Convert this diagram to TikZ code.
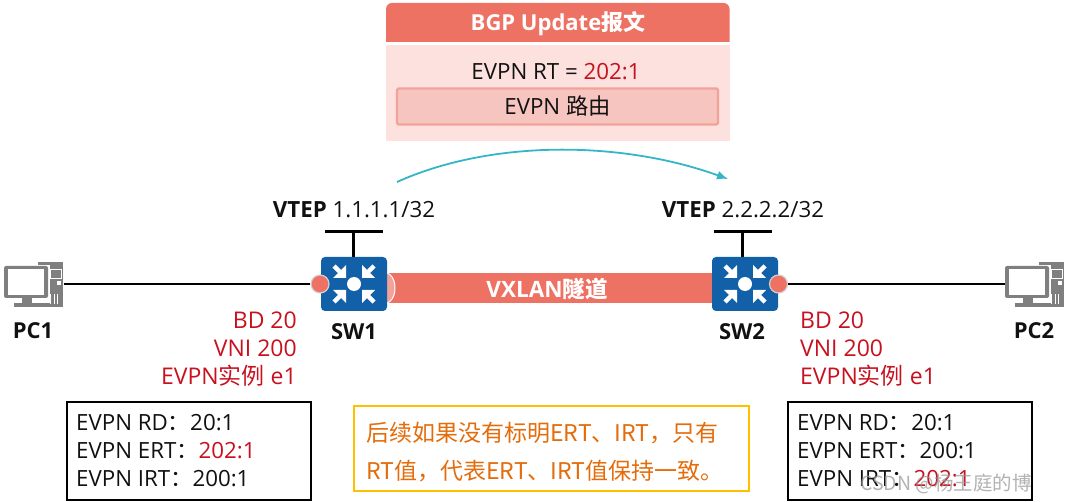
\documentclass[tikz,border=0pt]{standalone}
\usepackage{fontspec}
\setmainfont{Open Sans}
\newfontfamily\cjk{Noto Sans CJK SC}
\usetikzlibrary{arrows.meta,calc}
\definecolor{salmon}{HTML}{EE7264}
\definecolor{palepink}{HTML}{FCE1DE}
\definecolor{midpink}{HTML}{F7C5C0}
\definecolor{edgepink}{HTML}{F3A299}
\definecolor{swblue}{HTML}{1160A8}
\definecolor{redtxt}{HTML}{C8101E}
\definecolor{teal}{HTML}{35B6C8}
\definecolor{notebd}{HTML}{FFC000}
\definecolor{notetx}{HTML}{E46C0A}
\definecolor{pcgray}{HTML}{7F7F7F}
\definecolor{txt}{HTML}{111111}
\tikzset{
  lbl/.style={font=\fontsize{22.3}{26}\selectfont, text=txt, inner sep=0pt},
  redlbl/.style={lbl, font=\fontsize{23}{27}\selectfont, text=redtxt},
  bold/.style={lbl, font=\fontsize{22}{26}\selectfont\bfseries},
  wire/.style={draw=black, line width=2.8pt},
  thinwire/.style={draw=black, line width=2pt},
  infobox/.style={draw=black, line width=2pt, fill=white, minimum width=244pt, minimum height=98pt, inner sep=0pt},
  swbox/.style={fill=swblue, rounded corners=4pt, minimum width=66pt, minimum height=54pt, inner sep=0pt},
  port/.style={circle, fill=salmon, draw=black!18, line width=1.2pt, minimum size=18pt, inner sep=0pt},
  pcnode/.style={minimum width=59pt, minimum height=45pt, inner sep=0pt},
}
\newcommand{\swicon}[1]{%
  \fill[white] (#1) circle (7pt);
  \foreach \sx/\sy in {1/1,-1/1,1/-1,-1/-1}{
    \begin{scope}[shift={(#1)}, xscale=\sx, yscale=\sy]
      \fill[white] (8,-6) -- (8,-19) -- (21,-6) -- cycle;
      \draw[white, line width=4.5pt] (12,-10) -- (20,-18);
    \end{scope}}
}
\newcommand{\pcicon}[1]{%
  \begin{scope}[shift={(#1)}]
    \fill[pcgray] (4,-22) rectangle (29,23);
    \draw[white, line width=.8pt] (16,-15) rectangle (27,-6);
    \fill[white] (23,-3) rectangle (27,1);
    \foreach \i in {0,1,2}{\fill[white] (16+3.5*\i,10) rectangle (17+3.5*\i,20);}
    \fill[white] (-31,-19) rectangle (15.5,19);
    \fill[pcgray, rounded corners=2pt] (-30,-18) rectangle (14,14);
    \fill[white] (-26,-15) rectangle (10,11);
    \fill[pcgray] (-12,14) rectangle (-2,19);
    \fill[pcgray] (-20,19) rectangle (8,23);
  \end{scope}
}
\begin{document}
\begin{tikzpicture}[x=1pt,y=-1pt]
\useasboundingbox (0,0) rectangle (1068,502);
% BGP message
\fill[salmon] (386,42) [rounded corners=6pt] -- (386,3) -- (729.5,3) [sharp corners] -- (729.5,42) -- cycle;
\node[bold, text=white] (title) at (558,24) {BGP Update{\cjk 报文}};
\fill[palepink] (386,45) rectangle (730,141);
\node[lbl] (rt) at (556,72) {EVPN RT = \textcolor{redtxt}{202:1}};
\node[lbl, fill=midpink, draw=edgepink, line width=2.2pt, rounded corners=1.5pt, minimum width=321pt, minimum height=36pt] (route) at (557.5,106.5) {EVPN {\cjk 路由}};
% flow arrow
\coordinate (arcs) at (397,182);
\coordinate (arce) at (728,179);
\draw[teal, line width=1.8pt, -{Latex[length=11pt,width=9pt]}] (arcs) .. controls (490,140) and (620,140) .. (arce);
% PCs
\node[pcnode] (pc1) at (34,284) {};
\node[pcnode] (pc2) at (1035,284) {};
\pcicon{pc1}
\pcicon{pc2}
\node[bold] (pc1l) at (33,331) {PC1};
\node[bold] (pc2l) at (1034,331) {PC2};
% tunnel
\node[fill=salmon, minimum width=330pt, minimum height=30pt, inner sep=0pt] (tunnel) at (548,288) {};
\node[bold, font=\fontsize{22.5}{26}\selectfont\bfseries, text=white] (tunl) at (547,289) {VXLAN{\cjk 隧道}};
\fill[edgepink] (386,273) arc (-90:90:9 and 15) -- cycle;
\draw[white, line width=1pt] (386,273) arc (-90:90:9 and 15);
% switches
\node[swbox] (sw1) at (354,284) {};
\node[swbox] (sw2) at (745,284) {};
\swicon{sw1}
\swicon{sw2}
\node[port] (p1) at (320,284) {};
\node[port] (p2) at (778.5,284) {};
\coordinate (v1a) at (325,231.5);
\coordinate (v1b) at (383,231.5);
\coordinate (v1m) at (353.5,231.5);
\coordinate (v2a) at (714,231.5);
\coordinate (v2b) at (772,231.5);
\coordinate (v2m) at (742.5,231.5);
\draw[wire] (v1a) -- (v1b);
\draw[wire] (v1m) -- (sw1.north -| v1m);
\draw[wire] (v2a) -- (v2b);
\draw[wire] (v2m) -- (sw2.north -| v2m);
\draw[thinwire] (pc1.east) -- (p1.west);
\draw[wire] (p2.east) -- (pc2.west);
% labels
\node[lbl] (vt1) at (354,210) {\textbf{VTEP} 1.1.1.1/32};
\node[lbl] (vt2) at (743,210) {\textbf{VTEP} 2.2.2.2/32};
\node[bold] (sw1l) at (354,332) {SW1};
\node[bold] (sw2l) at (742,332) {SW2};
\node[redlbl, anchor=east] (a1) at (297,320) {BD 20};
\node[redlbl, anchor=east] (a2) at (297,348) {VNI 200};
\node[redlbl, anchor=east] (a3) at (297,376) {EVPN{\cjk 实例} e1};
\node[redlbl, anchor=west] (b1) at (800,320) {BD 20};
\node[redlbl, anchor=west] (b2) at (800,348) {VNI 200};
\node[redlbl, anchor=west] (b3) at (800,376) {EVPN{\cjk 实例} e1};
% info boxes
\node[infobox] (box1) at (189,451) {};
\node[lbl, anchor=west] (c1) at (76,423) {EVPN RD{\cjk ：}20:1};
\node[lbl, anchor=west] (c2) at (76,451) {EVPN ERT{\cjk ：}\textcolor{redtxt}{202:1}};
\node[lbl, anchor=west] (c3) at (76,479) {EVPN IRT{\cjk ：}200:1};
\node[infobox] (box2) at (910,451) {};
\node[lbl, anchor=west] (d1) at (797,423) {EVPN RD{\cjk ：}20:1};
\node[lbl, anchor=west] (d2) at (797,451) {EVPN ERT{\cjk ：}200:1};
\node[lbl, anchor=west] (d3) at (797,479) {EVPN IRT{\cjk ：}\textcolor{redtxt}{202:1}};
% note
\node[draw=notebd, line width=2pt, fill=white, minimum width=395pt, minimum height=85pt, inner sep=0pt] (note) at (551.5,448) {};
\node[lbl, text=notetx, anchor=west, font=\fontsize{23}{27}\selectfont\cjk] (n1) at (366,433) {后续如果没有标明ERT、IRT，只有};
\node[lbl, text=notetx, anchor=west, font=\fontsize{23}{27}\selectfont\cjk] (n2) at (366,471) {RT值，代表ERT、IRT值保持一致。};
% watermark
\node[lbl, text=black!40, opacity=.75, anchor=east, font=\fontsize{19.5}{23}\selectfont\cjk] (wm) at (1032,484) {CSDN @杨王庭的博};
\end{tikzpicture}
\end{document}
